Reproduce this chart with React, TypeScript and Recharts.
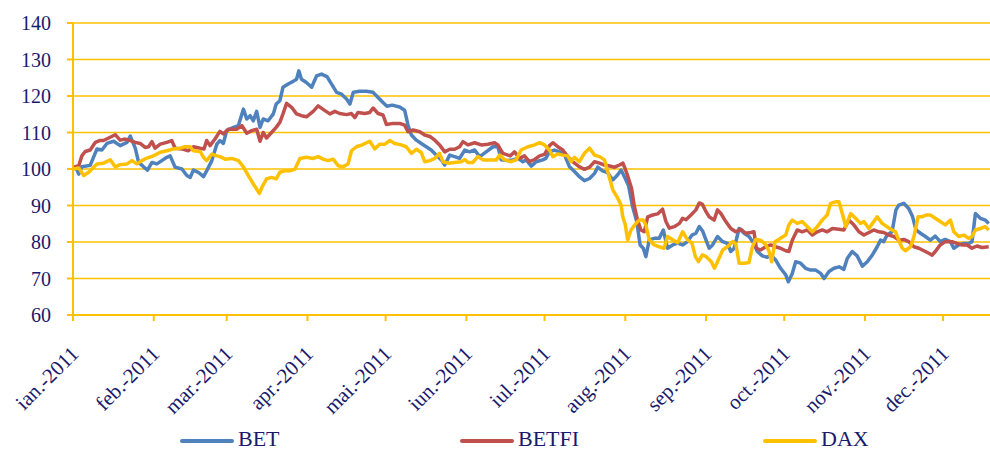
import { LineChart, Line, XAxis, YAxis, CartesianGrid, Legend } from "recharts";

const monthLabels = [
  "ian.-2011", "feb.-2011", "mar.-2011", "apr.-2011", "mai.-2011", "iun.-2011",
  "iul.-2011", "aug.-2011", "sep.-2011", "oct.-2011", "nov.-2011", "dec.-2011",
];
// day of year where each month starts
const monthStarts = [0, 31, 59, 90, 120, 151, 181, 212, 243, 273, 304, 334];
const yTicks = [60, 70, 80, 90, 100, 110, 120, 130, 140];

// [day of year, index value]
const betPoints: [number, number][] = [
  [1, 100.6], [2.2, 98.6], [3.4, 100.6], [6.6, 101], [9.2, 105.5], [11.1, 105.2], [13, 107], [15.6, 107.6],
  [18.1, 106.4], [20.7, 107.3], [22, 109], [23.9, 105.7], [25.2, 101.8], [27.1, 100.6], [28.6, 99.7],
  [30.3, 101.8], [32.2, 101.4], [34.1, 102.3], [36, 103.2], [37.3, 103.6], [39.2, 100.5], [41.8, 100],
  [43.7, 98.2], [45, 97.7], [46.2, 99.7], [48.1, 99.1], [50.1, 97.9], [51.3, 99.5], [53.3, 102.3],
  [55.2, 106.8], [56.4, 107.8], [57.7, 107], [59, 110.5], [61.6, 111.4], [63.5, 111.9], [65.4, 116.4],
  [66.7, 113.7], [68, 114.6], [69.2, 113.2], [70.5, 115.8], [71.8, 111.4], [73, 113.7], [74.9, 113.2],
  [76.9, 115.1], [78, 117.8], [79.4, 118.7], [80.6, 122.4], [82.6, 123.3], [84.5, 124], [85.8, 124.6],
  [86.7, 126.9], [87.7, 124.6], [89.6, 123.7], [91.6, 122.4], [93.5, 125.5], [95.4, 126], [97.5, 125.3],
  [99.2, 123.3], [101.2, 121], [103.1, 120.5], [105, 119.2], [106.3, 117.8], [107.6, 121], [110.1, 121.3],
  [112.6, 121.3], [115.2, 121], [117.1, 119.6], [119, 118.2], [120.5, 117.2], [122.5, 117.5], [125.4, 117],
  [127.3, 116.1], [128.6, 112], [129.9, 109.3], [131.8, 107.9], [133.7, 107], [135.6, 106.1], [137.5, 105.2],
  [139.5, 103.8], [141.4, 102.5], [142.7, 101.1], [144.6, 103.8], [146.5, 103.4], [148.4, 102.9],
  [150.4, 105.2], [152.2, 104.7], [154.2, 105.2], [156.1, 103.4], [158.6, 104.7], [161.2, 106.1],
  [163.1, 106.1], [164.4, 102.5], [166.9, 102.3], [168.8, 102.5], [170.8, 102.9], [172.7, 102], [174, 102.5],
  [175.9, 100.8], [177.8, 102], [180.3, 102.5], [181.5, 102.9], [182.9, 104.7], [184.8, 105.2], [186.7, 104.7],
  [188.7, 103.8], [190.6, 100.6], [192.5, 99.3], [194.4, 97.9], [196.3, 96.8], [198.3, 97.4], [200.2, 98.8],
  [201.4, 100.5], [203.3, 99.5], [205.2, 99], [207.2, 97], [209.1, 98.4], [210.4, 99.7], [212, 97.4],
  [213.3, 95.3], [214.8, 89.7], [216.4, 85.6], [217.7, 79.2], [218.9, 78.3], [219.9, 76], [221.2, 80.6],
  [223.1, 81], [225, 81], [226.6, 83.3], [228.2, 78.3], [230.2, 79.2], [232.1, 79.7], [234, 79.2],
  [235.9, 80.1], [237.6, 81.9], [239.1, 82.4], [240.4, 84.2], [241.7, 83], [243, 80.5], [244.2, 78.3],
  [245.5, 79.2], [247.4, 81.5], [249.4, 80.1], [251.2, 79.6], [252.5, 77.4], [253.8, 78.3], [255.7, 83.7],
  [257.6, 82.4], [259.5, 81.5], [261.4, 79.6], [262.7, 77.4], [264.6, 76.2], [266.5, 75.8], [267.8, 76.4],
  [269.7, 75.1], [271.6, 72.8], [273.6, 71], [274.6, 69.1], [276.1, 71.4], [277.4, 74.6], [279.3, 74.2],
  [281.2, 72.8], [283.2, 72.3], [285.1, 72.3], [287, 71.4], [288.3, 70], [290.2, 71.9], [292.1, 72.8],
  [294.1, 73.2], [295.9, 72.5], [297.2, 75.5], [299.1, 77.4], [301, 76.2], [303, 73.4], [304.9, 74.6],
  [306.8, 76.4], [308.7, 78.7], [310, 80.5], [311.2, 80.1], [312.5, 81.9], [314.4, 82.8], [315.9, 88.8],
  [317, 90.1], [318.9, 90.6], [320.8, 89.2], [322.3, 86.9], [323.6, 83.3], [325.3, 82.4], [327.2, 81.5],
  [329.1, 80.5], [331, 81.6], [332.9, 80.1], [334.8, 80.7], [336.8, 80.1], [338.1, 78.3], [340, 79.2],
  [341.9, 79.6], [343.8, 79.6], [345.1, 80.1], [346.4, 87.8], [348.3, 86.5], [350.2, 86], [351.5, 85.1],
];

const betfiPoints: [number, number][] = [
  [0.3, 100.5], [2.2, 100.9], [3.4, 103.6], [4.7, 104.8], [6.6, 105.2], [8.6, 107.3], [10.2, 107.8],
  [11.7, 107.8], [13.7, 108.5], [16.2, 109.4], [18.1, 107.9], [20, 108.2], [22, 107.8], [23.9, 107.3],
  [25.8, 107], [27.7, 105.9], [29, 106.1], [30.3, 107.5], [31.5, 105.7], [33.5, 106.8], [36, 107.3],
  [37.9, 107.8], [39.2, 105.7], [41.8, 105.5], [44.3, 105], [46.2, 106.1], [48.8, 105.7], [50.3, 105.5],
  [51.3, 107.8], [52.6, 106.4], [54.5, 108.2], [56.4, 110.3], [57.7, 109.6], [59.6, 110.9], [62.8, 110.9],
  [64.8, 111.9], [66.7, 109.8], [68.6, 110.5], [70.5, 110.9], [71.8, 107.6], [73, 110], [74.3, 108.5],
  [76.2, 110], [78, 111.4], [79.4, 112.8], [80.6, 115.1], [82, 118], [83.9, 116.9], [85.8, 115.1],
  [87.7, 114.6], [89.6, 114.3], [92.2, 115.8], [94.1, 117.3], [96.7, 116], [98.6, 115.1], [100.5, 115.8],
  [102.4, 115.2], [105, 114.9], [106.9, 115.2], [108.2, 114.1], [109.4, 115.5], [112, 115.2], [113.9, 115.5],
  [115.2, 116.7], [117.1, 115.2], [119, 114.8], [120.3, 112.2], [122.9, 112.5], [125.4, 112.5], [127.3, 112],
  [128.6, 110.2], [130.5, 110.7], [133.1, 110.2], [135, 109.3], [137, 108.9], [138.9, 107.9], [140.7, 106.6],
  [142.7, 104.7], [144.6, 105.4], [146.5, 105.4], [148.4, 106.1], [149.7, 107.5], [151.6, 106.6],
  [154.2, 107.2], [156.7, 106.6], [159.3, 106.8], [161.8, 107.2], [163.1, 106.6], [165, 104.3], [167.9, 103.6],
  [169.5, 104.7], [171.4, 102.9], [173.3, 103.6], [175.2, 102], [177.2, 102.6], [179.1, 103.6], [181, 104],
  [182.9, 106.4], [184.2, 107.2], [186.1, 106.1], [188, 105.2], [189.9, 103.4], [191.8, 102], [194.4, 100.6],
  [196.3, 99.9], [198.3, 100.5], [200.2, 102], [202.1, 101.6], [204, 101.1], [206, 100.8], [207.9, 100.5],
  [209.8, 101.1], [211.1, 101.6], [212.6, 98.8], [214.4, 94.7], [215.4, 90.1], [216.7, 86], [218, 83.3],
  [219.3, 82.8], [220.6, 86.9], [222.5, 87.4], [224.4, 87.7], [226.3, 89], [227.6, 85.6], [228.9, 83.8],
  [230.8, 84.2], [232.8, 85.1], [234, 86.5], [235.3, 86.1], [237.2, 87.4], [239.1, 88.8], [240.4, 90.7],
  [241.6, 90.3], [243, 88.3], [244.2, 86.9], [246.1, 86], [247.4, 88.8], [248.7, 87.8], [250.6, 85.6],
  [252.5, 83.7], [254.4, 82.8], [256.3, 83.5], [258.2, 82.4], [260.2, 82.6], [261.4, 82.8], [262.3, 78.3],
  [263.9, 77.8], [265.9, 78.7], [267.8, 79.2], [269.7, 78.7], [271.6, 78.3], [273.6, 77.6], [274.8, 77.4],
  [276.1, 80.5], [278, 83.3], [279.9, 82.8], [281.9, 83.3], [283.8, 81.9], [285.7, 82.8], [287.6, 83.3],
  [289.5, 82.8], [291.5, 83.7], [294, 83.5], [295.9, 83.3], [297.8, 86], [299.7, 84.7], [301.7, 82.8],
  [303.6, 81.9], [305.5, 82.6], [307.4, 83.3], [309.3, 82.8], [311.2, 82.6], [313.2, 81.9], [315.1, 81.5],
  [317, 80.5], [318.9, 80.7], [320.8, 80.1], [322.8, 78.7], [324.7, 78.3], [326.6, 77.6], [328.5, 76.9],
  [329.8, 76.4], [331, 77.4], [332.9, 79.2], [334.8, 80.1], [337.4, 80.1], [339.3, 79.6], [341.2, 79.2],
  [343.2, 79.2], [345.1, 78.3], [347, 78.9], [348.9, 78.5], [351.5, 78.7],
];

const daxPoints: [number, number][] = [
  [0.3, 100], [2.2, 100.3], [4.1, 98.2], [6, 99.1], [7.9, 100.5], [9.2, 101.4], [11.7, 101.6], [14.3, 102.5],
  [16.2, 100.6], [18.1, 101.2], [20.7, 101.4], [22.6, 102.3], [24.5, 101.4], [26.4, 102.3], [28.4, 103],
  [30.9, 103.6], [33.5, 104.6], [36, 105], [38.6, 105.5], [41.1, 105.7], [43, 106.1], [45, 106.1], [46.2, 105],
  [48.8, 104.8], [50.1, 103.2], [51.3, 102.3], [53.3, 104.1], [55.2, 103.6], [56.4, 103.4], [58.4, 102.7],
  [60.9, 102.9], [63.5, 102.3], [65.4, 100.6], [67.3, 98.2], [69.2, 95.9], [70.5, 94.5], [71.5, 93.3],
  [72.8, 95.4], [74.3, 97.3], [76.2, 97.7], [78, 97.3], [79.4, 99.1], [81.3, 99.5], [83.2, 99.5], [85.2, 100],
  [87.1, 102.9], [89.6, 103.2], [92.2, 102.9], [94.1, 103.4], [96, 102.7], [97.9, 102.3], [99.9, 102.7],
  [101.8, 100.9], [103.7, 100.6], [105.6, 101.4], [106.9, 105], [108.8, 106.1], [111.3, 106.7], [113.9, 107.6],
  [115.8, 105.5], [117.7, 106.8], [119.7, 106.8], [121.6, 107.8], [123.5, 107], [126, 106.6], [127.9, 106.1],
  [129.9, 104.3], [131.8, 105.4], [133.7, 104.5], [135, 102], [137, 102.3], [138.9, 102.9], [140.7, 104.3],
  [142, 102], [144, 101.6], [146.5, 101.8], [149, 102], [150.4, 102.6], [151.6, 101.8], [153.5, 101.8],
  [155.4, 103.4], [157.4, 102.5], [159.9, 102.5], [162.5, 102.5], [163.8, 103.8], [165.7, 102.5], [168.2, 102],
  [170.1, 102.5], [172, 105.2], [174.6, 106.1], [177.2, 106.6], [179.1, 107.2], [181, 106.6], [182.9, 105.2],
  [184.2, 103.4], [186.1, 104.1], [188, 103.8], [189.9, 103.6], [191.2, 102], [192.5, 103.2], [194.4, 102],
  [196.3, 104.3], [198.3, 105.7], [200.2, 103.8], [202.1, 103.4], [204, 102.5], [206, 97.4], [207.2, 94.3],
  [209.1, 92], [210.4, 90.1], [211, 87], [212, 84.7], [212.9, 80.6], [214.2, 83.3], [216.1, 85.1], [217.4, 86],
  [218.9, 86], [219.9, 84.7], [221.2, 80.6], [223.1, 79.2], [225, 78.7], [226.9, 78.3], [228.2, 81.5],
  [230.2, 80.6], [232.1, 79.8], [234, 82.8], [235.9, 80.6], [237.6, 79.7], [238.9, 76], [240.1, 74.6],
  [241.6, 76.5], [243, 76], [245, 74.6], [246.2, 72.8], [247.4, 74.6], [249.4, 77.8], [251.2, 78.7],
  [253.2, 80.1], [254.4, 79.6], [255.7, 74.2], [257.6, 74.2], [259.5, 74.4], [260.8, 78.7], [262.1, 80.7],
  [264, 80.5], [266, 79.2], [267.2, 77.4], [268.2, 74.6], [269.5, 80.1], [271.6, 81], [273.6, 81.9],
  [274.8, 84.7], [276.1, 86], [278, 85.1], [279.9, 85.6], [281.9, 84.2], [283.8, 82.8], [285.7, 84.2],
  [287.6, 86], [289.5, 87.4], [290.8, 90.6], [292.7, 91], [294, 91], [295.3, 87.8], [296.6, 84.2],
  [298.5, 87.8], [300.4, 86.5], [302.3, 85.1], [303.6, 85.6], [305.5, 83.7], [307.4, 85.6], [308.7, 86.9],
  [310.6, 85.1], [312.5, 84.2], [314.4, 83.3], [315.7, 82.8], [317, 80.5], [318.3, 78.3], [319.5, 77.6],
  [321.5, 78.7], [322.8, 81.5], [324.4, 86.9], [325.9, 86.9], [327.5, 87.4], [329.1, 87.4], [331, 86.5],
  [332.9, 85.6], [334.8, 84.7], [336.8, 86], [338.1, 82.8], [340, 81.5], [341.9, 81.9], [343.8, 81],
  [345.1, 81.5], [346.4, 83.3], [348.3, 83.7], [350.2, 84.2], [351.5, 83.3],
];

const series = [
  { name: "BET", color: "#4F81BD", points: betPoints },
  { name: "BETFI", color: "#C0504D", points: betfiPoints },
  { name: "DAX", color: "#FFC000", points: daxPoints },
];

const FONT = "Liberation Serif, DejaVu Serif, serif";
const TEXT = "#1A1A6C";
const GRID = "#FFC000";
const legendLeft = [180, 460, 763];

function MonthTick(props: any) {
  const { x, y, payload } = props;
  const idx = monthStarts.indexOf(payload.value);
  return (
    <g transform={`translate(${x + 7},${y + 32})`}>
      <text textAnchor="end" transform="rotate(-45)" fill={TEXT} fontSize={21} fontFamily={FONT}>
        {monthLabels[idx]}
      </text>
    </g>
  );
}

// legend drawn as svg so it uses the same serif text as the axes
function LegendContent() {
  return (
    <svg width={990} height={25} style={{ display: "block", overflow: "visible" }}>
      {series.map((s, i) => (
        <g key={s.name} transform={`translate(${legendLeft[i]},0)`}>
          <line x1={2} y1={15} x2={52} y2={15} stroke={s.color} strokeWidth={4} strokeLinecap="round" />
          <text x={58} y={20} fill={TEXT} fontSize={22} fontFamily={FONT}>
            {s.name}
          </text>
        </g>
      ))}
    </svg>
  );
}

export default function App() {
  return (
    <div style={{ width: 990, height: 451 }}>
      <style>{"body{margin:0}"}</style>
      <LineChart width={990} height={451} margin={{ top: 23, right: 0, left: 0, bottom: 0 }}>
        <CartesianGrid vertical={false} stroke={GRID} strokeWidth={1.5} />
        <XAxis
          type="number"
          dataKey="day"
          domain={[0, 352]}
          ticks={monthStarts}
          interval={0}
          height={110}
          tick={<MonthTick />}
          tickSize={6}
          axisLine={{ stroke: GRID, strokeWidth: 2 }}
          tickLine={{ stroke: GRID, strokeWidth: 2 }}
          allowDataOverflow
        />
        <YAxis
          type="number"
          domain={[60, 140]}
          ticks={yTicks}
          width={73}
          tickSize={6}
          tickMargin={16}
          tick={{ fill: TEXT, fontSize: 20, fontFamily: FONT }}
          axisLine={{ stroke: GRID, strokeWidth: 2 }}
          tickLine={{ stroke: GRID, strokeWidth: 2 }}
        />
        <Legend
          verticalAlign="bottom"
          height={26}
          content={<LegendContent />}
          wrapperStyle={{ left: 0, width: 990, top: 426 }}
        />
        {series.map((s) => (
          <Line
            key={s.name}
            name={s.name}
            data={s.points.map(([day, value]) => ({ day, value }))}
            dataKey="value"
            type="linear"
            stroke={s.color}
            strokeWidth={3.5}
            strokeLinejoin="round"
            dot={false}
            activeDot={false}
            isAnimationActive={false}
          />
        ))}
      </LineChart>
    </div>
  );
}
